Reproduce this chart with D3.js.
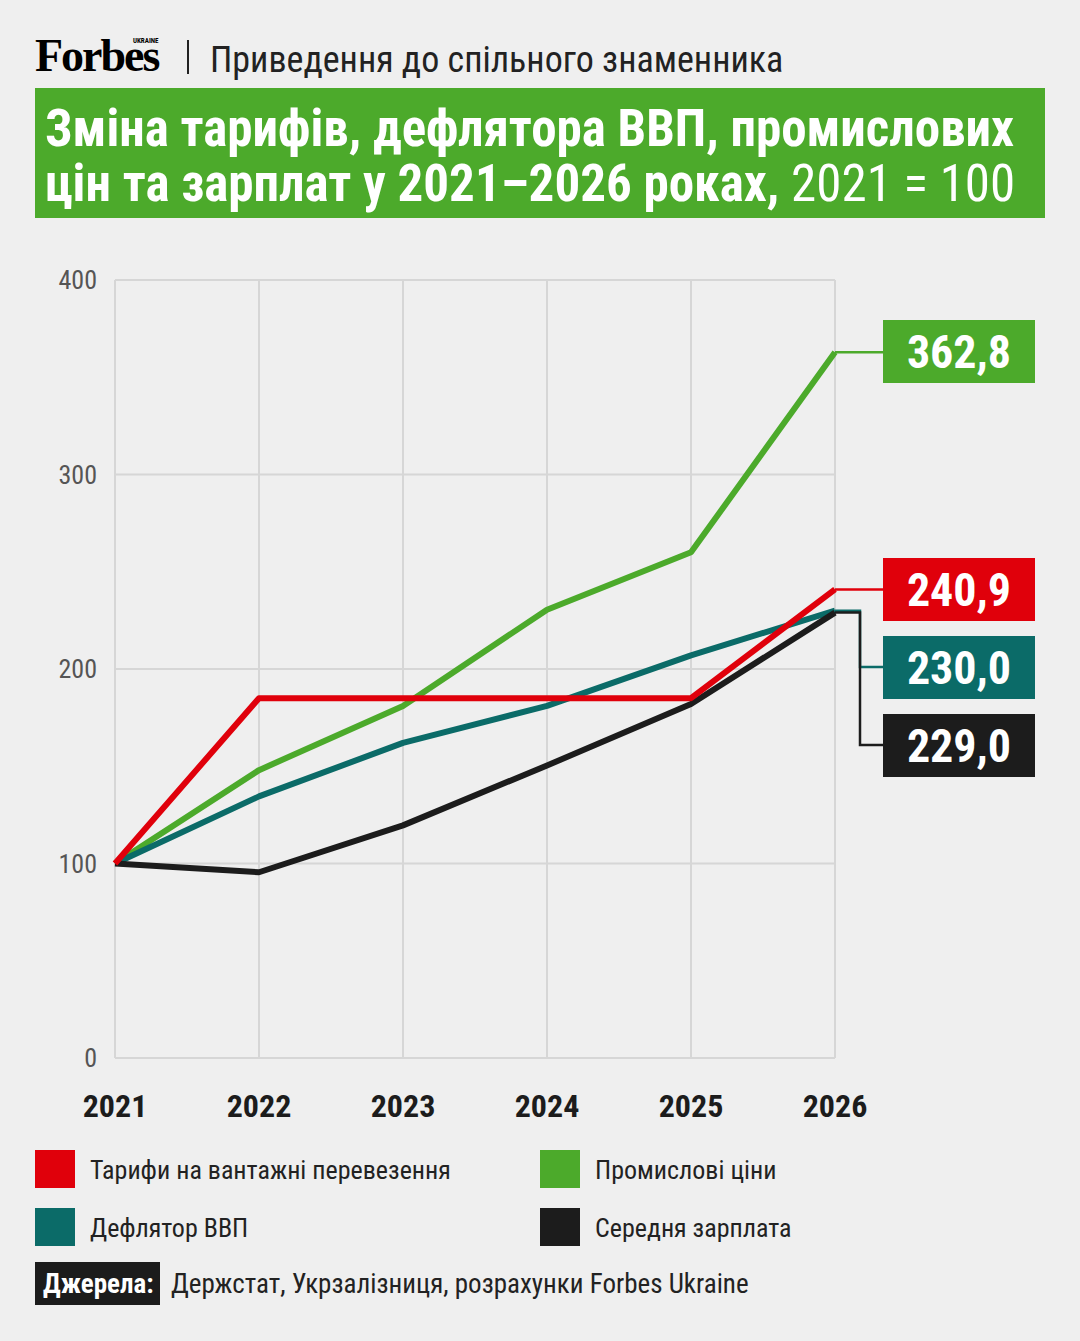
<!DOCTYPE html><html><head><meta charset="utf-8">
<script src="https://cdn.jsdelivr.net/npm/d3@7"></script>
<style>body{margin:0;background:#efefef}text{font-family:"Liberation Sans Narrow","Roboto Condensed",Roboto,sans-serif}</style></head><body>
<svg id="c" width="1080" height="1341"></svg>
<script>
const years=[2021,2022,2023,2024,2025,2026];
const yTicks=[0,100,200,300,400];
const tariffs=[100,185,185,185,185,240.9];
const industrial=[100,148,181,230.5,260,362.8];
const deflator=[100,134.5,162,181,207,230.0];
const wages=[100,95.5,119.6,150.4,182,229.0];
const names=["Тарифи на вантажні перевезення","Промислові ціни","Дефлятор ВВП","Середня зарплата"];
const colors={t:"#e0000b",i:"#4caa2b",d:"#0b6b68",w:"#1c1c1c"};
const svg=d3.select("#c");
svg.append("rect").attr("width",1080).attr("height",1341).attr("fill","#efefef");
svg.append("text").attr("x",35).attr("y",71).attr("font-weight","bold").attr("font-size",46).attr("letter-spacing",-2).text("Forbes").style("font-family","Liberation Serif,serif");
svg.append("text").attr("x",133).attr("y",43).attr("font-size",7).attr("font-weight","bold").text("UKRAINE");
svg.append("rect").attr("x",187).attr("y",40).attr("width",2).attr("height",34).attr("fill","#222");
svg.append("text").attr("x",210).attr("y",72).attr("font-size",36).attr("fill","#222").text("Приведення до спільного знаменника");
svg.append("rect").attr("x",35).attr("y",88).attr("width",1010).attr("height",130).attr("fill","#4caa2b");
svg.append("text").attr("x",45).attr("y",146).attr("font-size",51).attr("font-weight","bold").attr("fill","#fff").text("Зміна тарифів, дефлятора ВВП, промислових");
const t2=svg.append("text").attr("x",45).attr("y",201).attr("font-size",51).attr("fill","#fff");
t2.append("tspan").attr("font-weight","bold").text("цін та зарплат у 2021–2026 роках, ");
t2.append("tspan").text("2021 = 100");
const x=d3.scalePoint().domain(years).range([115,835]);
const y=d3.scaleLinear().domain([0,400]).range([1058,280]);
const g=svg.append("g");
g.selectAll(".gx").data(years).join("line").attr("x1",d=>x(d)).attr("x2",d=>x(d)).attr("y1",280).attr("y2",1058).attr("stroke","#d6d6d6").attr("stroke-width",2);
g.selectAll(".gy").data(yTicks).join("line").attr("x1",115).attr("x2",835).attr("y1",d=>y(d)).attr("y2",d=>y(d)).attr("stroke","#d6d6d6").attr("stroke-width",2);
g.selectAll(".ty").data(yTicks).join("text").attr("x",97).attr("y",d=>y(d)+9).attr("text-anchor","end").attr("font-size",26).attr("fill","#555").text(d=>d);
g.selectAll(".tx").data(years).join("text").attr("x",d=>x(d)).attr("y",1117).attr("text-anchor","middle").attr("font-size",32).attr("font-weight","bold").attr("fill","#1c1c1c").text(d=>d);
const line=d3.line().x((d,i)=>x(years[i])).y(d=>y(d));
[[industrial,colors.i],[deflator,colors.d],[wages,colors.w],[tariffs,colors.t]].forEach(([s,c])=>
 g.append("path").attr("d",line(s)).attr("fill","none").attr("stroke",c).attr("stroke-width",6).attr("stroke-linejoin","round"));
const fmt=v=>v.toFixed(1).replace(".",",");
const labs=[[industrial,colors.i,351,false],[tariffs,colors.t,589,false],[deflator,colors.d,667,true],[wages,colors.w,745,true]];
labs.forEach(([s,c,by,bend])=>{
 const v=s[5],ly=y(v),lx=x(2026);
 const p=bend?`M${lx},${ly}H860V${by}H883`:`M${lx},${ly}H883`;
 svg.append("path").attr("d",p).attr("fill","none").attr("stroke",c).attr("stroke-width",2.5);
 svg.append("rect").attr("x",883).attr("y",by-31).attr("width",152).attr("height",63).attr("fill",c);
 svg.append("text").attr("x",959).attr("y",by+17).attr("text-anchor","middle").attr("font-size",46).attr("font-weight","bold").attr("fill","#fff").text(fmt(v));
});
const leg=[[35,1150,colors.t,names[0]],[540,1150,colors.i,names[1]],[35,1208,colors.d,names[2]],[540,1208,colors.w,names[3]]];
leg.forEach(([lx,ly,c,n])=>{
 svg.append("rect").attr("x",lx).attr("y",ly).attr("width",40).attr("height",38).attr("fill",c);
 svg.append("text").attr("x",lx+55).attr("y",ly+29).attr("font-size",26).attr("fill","#222").text(n);
});
svg.append("rect").attr("x",35).attr("y",1262).attr("width",125).attr("height",43).attr("fill","#1c1c1c");
svg.append("text").attr("x",43).attr("y",1293).attr("font-size",27).attr("font-weight","bold").attr("fill","#fff").text("Джерела:");
svg.append("text").attr("x",171).attr("y",1293).attr("font-size",27).attr("fill","#222").text("Держстат, Укрзалізниця, розрахунки Forbes Ukraine");
</script></body></html>
